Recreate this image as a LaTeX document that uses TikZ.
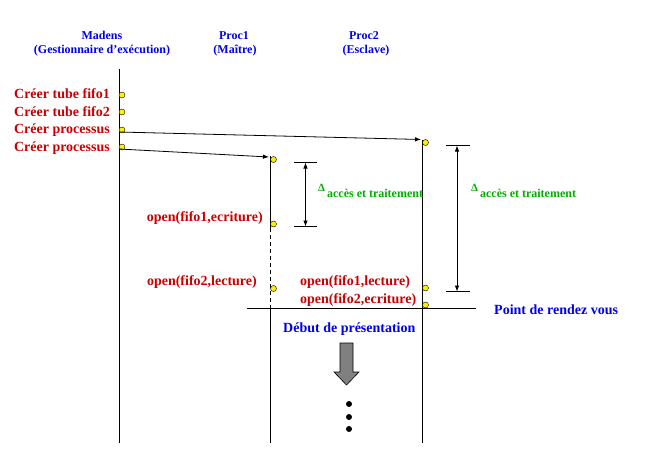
\documentclass[tikz,border=0pt]{standalone}
\usepackage{fontspec}
\setmainfont{Liberation Serif}
\usetikzlibrary{positioning}
\usetikzlibrary{arrows.meta}

\definecolor{hdrblue}{RGB}{0,0,235}
\definecolor{actred}{RGB}{200,0,0}
\definecolor{durgreen}{RGB}{0,175,0}
\definecolor{evtyellow}{RGB}{255,240,0}

\tikzset{
  hdr/.style={font=\fontsize{12}{14}\bfseries, text=hdrblue, inner sep=0pt},
  act/.style={font=\fontsize{14}{16}\bfseries, text=actred, inner sep=0pt},
  note/.style={font=\fontsize{14}{16}\bfseries, text=hdrblue, inner sep=0pt},
  dur/.style={font=\fontsize{12}{14}\bfseries, text=durgreen, inner sep=0pt},
  evt/.style={circle, draw=black, fill=evtyellow, inner sep=0pt, minimum size=6pt, line width=.4pt},
  life/.style={line width=.8pt},
  msg/.style={-{Latex[length=6pt,width=4.5pt]}, line width=.8pt},
  span/.style={{Latex[length=6pt,width=4.5pt]}-{Latex[length=6pt,width=4.5pt]}, line width=.8pt}
}
\newcommand{\deltaacc}{\raisebox{6pt}{\fontsize{11}{12}\selectfont Δ}\hspace{2pt}accès et traitement}

\begin{document}
\begin{tikzpicture}[x=1pt,y=-1pt]
\useasboundingbox (0,0) rectangle (664,458);

% en-tetes
\node(madens)[hdr, anchor=base] at (102,39) {Madens};
\node(madensR)[hdr, anchor=base] at (102,53) {(Gestionnaire d’exécution)};
\node(proc1)[hdr, anchor=base] at (234,39) {Proc1};
\node(proc1R)[hdr, anchor=base] at (235,53) {(Maître)};
\node(proc2)[hdr, anchor=base] at (364,39) {Proc2};
\node(proc2R)[hdr, anchor=base] at (366,53) {(Esclave)};

% lignes de vie
\coordinate(mTop) at (119,69);
\coordinate(mBot) at (119,443);
\coordinate(pATop) at (270,156);
\coordinate(pADash) at (270,228);
\coordinate(pASync) at (270,308);
\coordinate(pABot) at (270,443);
\coordinate(pBTop) at (422,140);
\coordinate(pBBot) at (422,443);
\draw[life] (mTop)--(mBot);
\draw[life] (pATop)--(pADash);
\draw[life, dash pattern=on 4pt off 3pt] (pADash)--(pASync);
\draw[life] (pASync)--(pABot);
\draw[life] (pBTop)--(pBBot);

% actions Madens
\node(tube1)[act, anchor=base east] at (110,98) {Créer tube fifo1};
\node(tube2)[act, anchor=base east] at (110,116) {Créer tube fifo2};
\node(proc3)[act, anchor=base east] at (110,133) {Créer processus};
\node(proc4)[act, anchor=base east] at (110,151) {Créer processus};
\node(e1)[evt] at (122,95) {};
\node(e2)[evt] at (122,112) {};
\node(e3)[evt] at (122,130) {};
\node(e4)[evt] at (122,147) {};

% creation des processus
\coordinate(s1) at (119,132);
\coordinate(t1) at (421,139.5);
\coordinate(s2) at (119,149);
\coordinate(t2) at (269,157);
\draw[msg] (s1)--(t1);
\draw[msg] (s2)--(t2);
\node(b1)[evt] at (425.5,142.5) {};
\node(a1)[evt] at (273.5,159.5) {};

% Proc1
\node(w1)[act, anchor=base east] at (263,221) {open(fifo1,ecriture)};
\node(a2)[evt] at (273.5,224) {};
\node(r2)[act, anchor=base east] at (257,285) {open(fifo2,lecture)};
\node(a3)[evt] at (273.5,288.5) {};

% Proc2
\node(r1)[act, anchor=base west] at (300,285) {open(fifo1,lecture)};
\node(b2)[evt] at (425.5,288) {};
\node(w2)[act, anchor=base west] at (300,303) {open(fifo2,ecriture)};
\node(b3)[evt] at (425.5,305) {};

% durees
\coordinate(dAt1) at (294,162.5);
\coordinate(dAt2) at (317,162.5);
\coordinate(dAb1) at (294,226.5);
\coordinate(dAb2) at (317,226.5);
\draw[life] (dAt1)--(dAt2);
\draw[life] (dAb1)--(dAb2);
\draw[span] (305.5,162.5)--(305.5,226.5);
\node(durA)[dur, anchor=base west] at (318,197) {\deltaacc};

\coordinate(dBt1) at (446,145.5);
\coordinate(dBt2) at (470,145.5);
\coordinate(dBb1) at (446,291.5);
\coordinate(dBb2) at (470,291.5);
\draw[life] (dBt1)--(dBt2);
\draw[life] (dBb1)--(dBb2);
\draw[span] (457,145.5)--(457,291.5);
\node(durB)[dur, anchor=base west] at (471,197) {\deltaacc};

% rendez-vous
\coordinate(rvL) at (247,308.5);
\coordinate(rvR) at (476,308.5);
\draw[life] (rvL)--(rvR);
\node(rdv)[note, anchor=base west] at (494,314) {Point de rendez vous};
\node(debut)[note, anchor=base west] at (283,332) {Début de présentation};

% suite
\draw[fill=gray, line width=.6pt] (340,343)--(353,343)--(353,372)--(359,372)--(346.5,385)--(334,372)--(340,372)--cycle;
\fill (349,404) circle (3);
\fill (349,417) circle (3);
\fill (349,429) circle (3);
\end{tikzpicture}
\end{document}
